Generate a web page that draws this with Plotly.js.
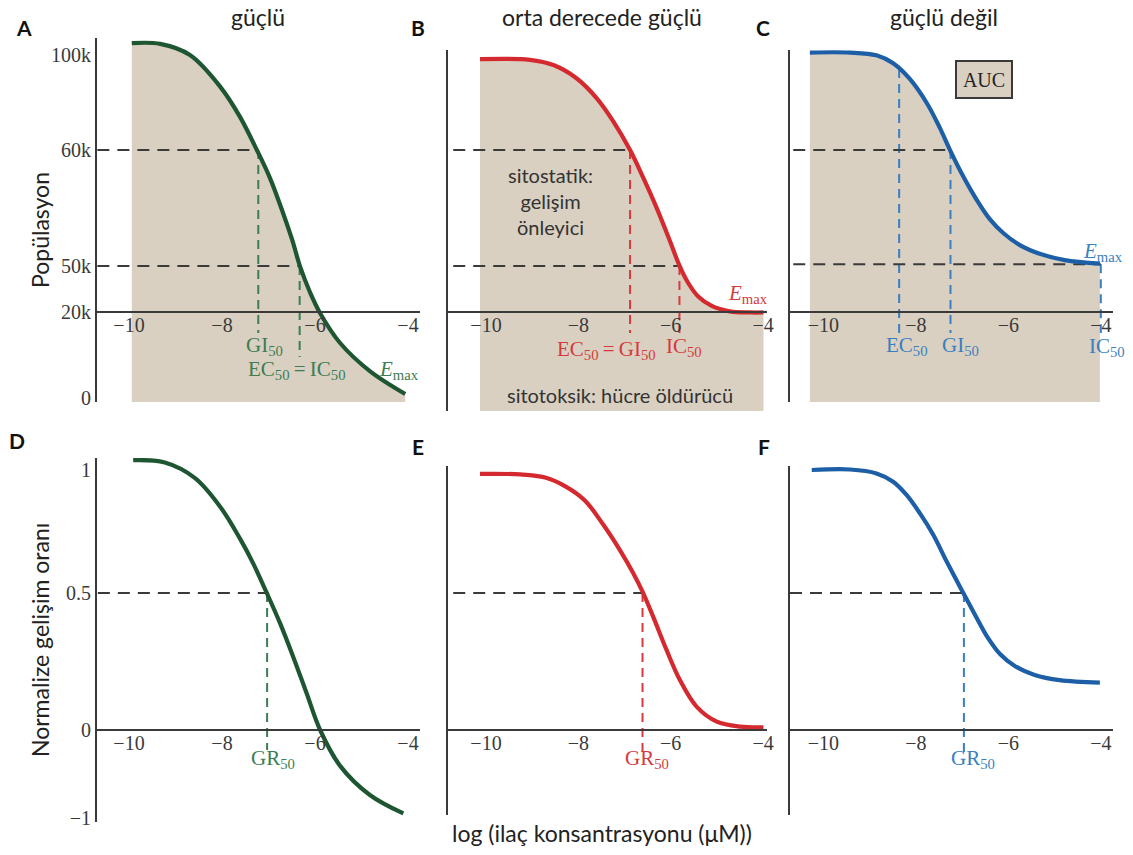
<!DOCTYPE html>
<html><head><meta charset="utf-8">
<script src="https://cdn.plot.ly/plotly-3.0.1.min.js"></script>
<style>html,body{margin:0;padding:0;background:#fff}#chart{width:1133px;height:855px}</style>
</head><body><div id="chart"></div>
<script>
// ---------------- data (schematic curves) ----------------
// x: log (drug concentration, µM). Top row y: position on the population axis
// (tick labels below are placed at their drawn positions). Bottom row y: normalized growth rate.
const xTicks = [-10, -8, -6, -4];
const popTickPos  = [1.15, 25.8, 39.2, 72.6, 100];
const popTickText = ['0', '20k', '50k', '60k', '100k'];
const grTickPos   = [-0.338, 0, 0.527, 1];
const grTickText  = ['\u22121', '0', '0.5', '1'];

const pop60 = 72.6, pop50 = 39.2, pop20 = 25.8, gr05 = 0.527;

// Panel A (güçlü)
const aX = [-9.94, -9.33, -8.69, -8.04, -7.61, -7.25, -6.97, -6.68, -6.49, -6.32, -6.11, -5.89, -5.46, -4.82, -4.06];
const aY = [103.4, 103.2, 100.0, 90.9, 82.1, 72.6, 64.6, 54.2, 46.7, 39.0, 31.7, 25.6, 17.0, 8.9, 2.3];
const aGI50 = -7.22, aEC50 = -6.33;
// Panel B (orta derecede güçlü)
const bX = [-10.13, -9.05, -8.54, -8.04, -7.60, -7.24, -6.88, -6.59, -6.30, -6.01, -5.81, -5.62, -5.41, -5.11, -4.72, -4.28, -3.99];
const bY = [98.8, 98.6, 97.1, 93.3, 87.5, 80.8, 72.6, 64.5, 55.8, 46.2, 39.3, 34.3, 30.5, 27.7, 26.1, 25.8, 25.8];
const bGI50 = -6.88, bIC50 = -5.81;
// Panel C (güçlü değil)
const cX = [-10.29, -9.42, -8.85, -8.49, -8.13, -7.76, -7.48, -7.26, -6.97, -6.68, -6.40, -6.11, -5.75, -5.32, -4.78, -4.02];
const cY = [100.7, 100.7, 99.9, 97.6, 93.1, 86.1, 79.0, 72.6, 64.9, 58.2, 52.7, 48.7, 45.2, 42.7, 40.9, 39.9];
const cEC50 = -8.36, cGI50 = -7.25, cIC50 = -4.0, cEC50Y = 96.0, cPop50 = 39.7;
// Panel D
const dX = [-9.91, -9.23, -8.58, -8.04, -7.61, -7.33, -7.04, -6.75, -6.47, -6.18, -5.89, -5.46, -4.82, -4.10];
const dY = [1.038, 1.029, 0.969, 0.859, 0.735, 0.641, 0.528, 0.410, 0.282, 0.141, 0, -0.138, -0.250, -0.321];
const dGR50 = -7.03;
// Panel E
const eX = [-10.13, -9.26, -8.72, -8.29, -7.86, -7.47, -7.10, -6.81, -6.61, -6.38, -6.09, -5.80, -5.44, -5.00, -4.50, -3.99];
const eY = [0.985, 0.983, 0.971, 0.938, 0.883, 0.792, 0.692, 0.603, 0.532, 0.436, 0.308, 0.192, 0.090, 0.032, 0.013, 0.010];
const eGR50 = -6.61;
// Panel F
const fX = [-10.25, -9.42, -8.85, -8.49, -8.20, -7.91, -7.62, -7.33, -6.97, -6.68, -6.44, -6.18, -5.86, -5.43, -4.89, -4.02];
const fY = [1.0, 1.002, 0.987, 0.955, 0.904, 0.833, 0.750, 0.647, 0.526, 0.430, 0.354, 0.292, 0.246, 0.212, 0.192, 0.182];
const fGR50 = -6.96;

const shadeBottom = [0, -2.6, 0];

// ---------------- styles ----------------
const GREEN = '#1e5631', RED = '#d42a2f', BLUE = '#1d5fa6';
const GREEN_T = '#3c7d54', RED_T = '#d63a3d', BLUE_T = '#3a7fc0';
const SHADE = '#d9d0c1', DARK = '#3a3a3a';
const SERIF = 'Liberation Serif, Times New Roman, serif';
const SANS = 'Lato, Carlito, Calibri, sans-serif';

const W = 1133, H = 855;
const fx = p => p / W, fy = p => 1 - p / H;

const traces = [];
function line(ax, x, y, color, width, dash, extra) {
  traces.push(Object.assign({type: 'scatter', mode: 'lines', x: x, y: y, xaxis: ax[0], yaxis: ax[1],
    line: {color: color, width: width, dash: dash || 'solid'}, hoverinfo: 'skip', showlegend: false}, extra || {}));
}
const BD = '12px,8px', CD = '9px,6px';
const SMOOTH = 1;
function curve(ax, x, y, color) {
  line(ax, x, y, color, 4.2, 'solid', {line: {color: color, width: 4.2, shape: 'spline', smoothing: SMOOTH}});
}
function shade(ax, x, y, base) {
  line(ax, [x[0], x[x.length - 1]], [base, base], 'rgba(0,0,0,0)', 0);
  traces.push({type: 'scatter', mode: 'lines', x: x, y: y, xaxis: ax[0], yaxis: ax[1], fill: 'tonexty',
    fillcolor: SHADE, line: {width: 0, shape: 'spline', smoothing: SMOOTH, color: SHADE}, hoverinfo: 'skip', showlegend: false});
}
const xl = -10.68;
// A
const A = ['x', 'y'];
shade(A, aX, aY, shadeBottom[0]);
line(A, [aGI50, aGI50], [pop60, 19.9], GREEN_T, 2, CD);
line(A, [aEC50, aEC50], [pop50, 13.0], GREEN_T, 2, CD);
line(A, [xl, aGI50], [pop60, pop60], DARK, 2, BD);
line(A, [xl, aEC50], [pop50, pop50], DARK, 2, BD);
curve(A, aX, aY, GREEN);
// B
const B = ['x2', 'y2'];
shade(B, bX, bY, shadeBottom[1]);
line(B, [bGI50, bGI50], [pop60, 19.9], RED_T, 2, CD);
line(B, [bIC50, bIC50], [pop50, 19.9], RED_T, 2, CD);
line(B, [-10.71, bGI50], [pop60, pop60], DARK, 2, BD);
line(B, [-10.71, bIC50], [pop50, pop50], DARK, 2, BD);
curve(B, bX, bY, RED);
// C
const C = ['x3', 'y3'];
shade(C, cX, cY, shadeBottom[2]);
line(C, [cEC50, cEC50], [cEC50Y, 19.9], BLUE_T, 2, CD);
line(C, [cGI50, cGI50], [pop60, 19.9], BLUE_T, 2, CD);
line(C, [cIC50, cIC50], [cPop50, 19.9], BLUE_T, 2, CD);
line(C, [-10.65, cGI50], [pop60, pop60], DARK, 2, BD);
line(C, [-10.65, cIC50], [cPop50, cPop50], DARK, 2, BD);
curve(C, cX, cY, BLUE);
// D
const D = ['x4', 'y4'];
line(D, [dGR50, dGR50], [gr05, -0.077], GREEN_T, 2, CD);
line(D, [-10.67, dGR50], [gr05, gr05], DARK, 2, BD);
curve(D, dX, dY, GREEN);
// E
const E = ['x5', 'y5'];
line(E, [eGR50, eGR50], [gr05, -0.088], RED_T, 2, CD);
line(E, [-10.71, eGR50], [gr05, gr05], DARK, 2, BD);
curve(E, eX, eY, RED);
// F
const F = ['x6', 'y6'];
line(F, [fGR50, fGR50], [gr05, -0.088], BLUE_T, 2, CD);
line(F, [-10.72, fGR50], [gr05, gr05], DARK, 2, BD);
curve(F, fX, fY, BLUE);

// ---------------- axes ----------------
const cols = [{l: 97, r: 420, t10: 129, ppu: 46.5}, {l: 448, r: 767, t10: 486, ppu: 46.17}, {l: 790, r: 1113, t10: 823.3, ppu: 46.25}];
const tickFont = {family: SERIF, size: 20, color: DARK};
function xaxis(c, axisPx) {
  return {domain: [fx(c.l), fx(c.r)], range: [-10 - (c.t10 - c.l) / c.ppu, -10 + (c.r - c.t10) / c.ppu],
    anchor: 'free', position: fy(axisPx), showgrid: false, zeroline: false, showline: true, linecolor: DARK, linewidth: 2,
    ticks: '', ticklabelstandoff: -5, tickvals: xTicks, tickfont: tickFont, fixedrange: true};
}
function yaxis(anchor, topPx, botPx, toVal, tv, tt) {
  const a = {anchor: anchor, domain: [fy(botPx), fy(topPx)], range: [toVal(botPx), toVal(topPx)],
    showgrid: false, zeroline: false, showline: true, linecolor: DARK, linewidth: 2, ticks: '', fixedrange: true};
  if (tv) { a.tickvals = tv; a.ticktext = tt; a.tickfont = tickFont; } else { a.showticklabels = false; }
  return a;
}
const topVal = p => (402 - p) / 3.47;
const botVal = p => (730 - p) / 260;
const topAxisPx = 402 - pop20 * 3.47, botAxisPx = 730;

const layout = {
  width: W, height: H, margin: {l: 0, r: 0, t: 0, b: 0}, paper_bgcolor: '#fff', plot_bgcolor: 'rgba(0,0,0,0)',
  showlegend: false,
  xaxis: xaxis(cols[0], topAxisPx), xaxis2: xaxis(cols[1], topAxisPx), xaxis3: xaxis(cols[2], topAxisPx),
  xaxis4: xaxis(cols[0], botAxisPx), xaxis5: xaxis(cols[1], botAxisPx), xaxis6: xaxis(cols[2], botAxisPx),
  yaxis: yaxis('x', 38, 402, topVal, popTickPos, popTickText),
  yaxis2: yaxis('x2', 50, 411, topVal),
  yaxis3: yaxis('x3', 50, 402, topVal),
  yaxis4: yaxis('x4', 458, 822, botVal, grTickPos, grTickText),
  yaxis5: yaxis('x5', 466, 815, botVal),
  yaxis6: yaxis('x6', 466, 815, botVal),
  annotations: []
};

const ann = layout.annotations;
function pt(text, px, py, font, extra) {
  ann.push(Object.assign({text: text, xref: 'paper', yref: 'paper', x: fx(px), y: fy(py), xanchor: 'center', yanchor: 'middle',
    showarrow: false, font: font}, extra || {}));
}
function dt(ax, text, x, y, color, extra) {
  ann.push(Object.assign({text: text, xref: ax[0], yref: ax[1], x: x, y: y, xanchor: 'center', yanchor: 'middle',
    showarrow: false, font: {family: SERIF, size: 21, color: color}}, extra || {}));
}
const letterFont = {family: SANS, size: 21, color: '#111', weight: 'bold'};
pt('<b>A</b>', 24, 28, letterFont); pt('<b>B</b>', 418, 28, letterFont); pt('<b>C</b>', 763, 28, letterFont);
pt('<b>D</b>', 17, 440, letterFont); pt('<b>E</b>', 418, 447, letterFont); pt('<b>F</b>', 764, 447, letterFont);
const titleFont = {family: SANS, size: 23, color: '#222'};
pt('güçlü', 258, 17, titleFont); pt('orta derecede güçlü', 602, 17, titleFont); pt('güçlü değil', 944, 17, titleFont);
pt('Popülasyon', 40, 230, titleFont, {textangle: -90});
pt('Normalize gelişim oranı', 40, 640, titleFont, {textangle: -90});
pt('log (ilaç konsantrasyonu (μM))', 602, 833, titleFont);

const EQ = '\u2009=\u2009';
dt(A, 'GI<sub>50</sub>', -7.08, 16.2, GREEN_T);
dt(A, 'EC<sub>50</sub>' + EQ + 'IC<sub>50</sub>', -6.39, 9.2, GREEN_T);
dt(A, '<i>E</i><sub>max</sub>', -4.20, 9.2, GREEN_T);
dt(B, 'EC<sub>50</sub>' + EQ + 'GI<sub>50</sub>', -7.39, 15.0, RED_T);
dt(B, 'IC<sub>50</sub>', -5.71, 15.8, RED_T);
dt(B, '<i>E</i><sub>max</sub>', -4.32, 31.0, RED_T);
dt(B, 'sitostatik:<br>gelişim<br>önleyici', -8.61, 58.0, '#333', {font: {family: SANS, size: 20, color: '#333'}});
dt(B, 'sitotoksik: hücre öldürücü', -7.10, 2.0, '#333', {font: {family: SANS, size: 20, color: '#333'}});
dt(C, 'EC<sub>50</sub>', -8.20, 16.0, BLUE_T);
dt(C, 'GI<sub>50</sub>', -7.04, 16.0, BLUE_T);
dt(C, 'IC<sub>50</sub>', -3.86, 15.8, BLUE_T);
dt(C, '<i>E</i><sub>max</sub>', -3.95, 43.2, BLUE_T);
dt(C, 'AUC', -6.53, 92.8, '#222', {bgcolor: SHADE, bordercolor: DARK, borderwidth: 2, borderpad: 1, width: 52, height: 33,
  font: {family: SERIF, size: 20, color: '#222'}});
dt(D, 'GR<sub>50</sub>', -6.90, -0.113, GREEN_T);
dt(E, 'GR<sub>50</sub>', -6.52, -0.113, RED_T);
dt(F, 'GR<sub>50</sub>', -6.76, -0.113, BLUE_T);

Plotly.newPlot('chart', traces, layout, {staticPlot: true, displayModeBar: false});
</script></body></html>
